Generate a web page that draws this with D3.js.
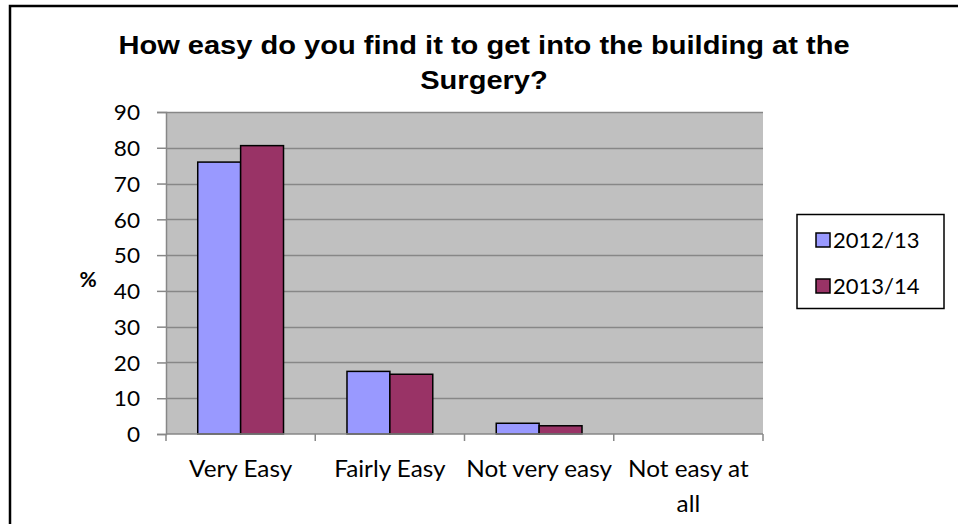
<!DOCTYPE html>
<html>
<head>
<meta charset="utf-8">
<script src="https://cdn.jsdelivr.net/npm/d3@7"></script>
<style>
  html, body { margin: 0; padding: 0; background: #fff; }
  svg { display: block; }
</style>
</head>
<body>
<svg id="chart" width="958" height="524"></svg>
<script>
// Survey responses: share of patients (%) per answer, per year
const categories = ["Very Easy", "Fairly Easy", "Not very easy", "Not easy at all"];
const seriesNames = ["2012/13", "2013/14"];
const values2012 = [76, 17.5, 3, 0];
const values2013 = [80.6, 16.7, 2.3, 0];
const yTicks = [0, 10, 20, 30, 40, 50, 60, 70, 80, 90];
const seriesColors = ["#9999FF", "#993366"];

const svg = d3.select("#chart");
const W = 958, H = 524;
const plot = { left: 166, right: 763, top: 112, bottom: 434 };
const labelFont = "Lato, sans-serif";

// Outer chart frame
svg.append("rect")
  .attr("x", 10).attr("y", 6)
  .attr("width", W + 20).attr("height", H + 20)
  .attr("fill", "#fff").attr("stroke", "#000").attr("stroke-width", 2.5);

// Widen a text element horizontally around its own anchor x
function widen(sel, cx, k) {
  sel.attr("transform", `translate(${cx},0) scale(${k},1) translate(${-cx},0)`);
}

// Title
const titleLines = ["How easy do you find it to get into the building at the", "Surgery?"];
titleLines.forEach((line, k) => {
  const t = svg.append("text")
    .attr("x", 484).attr("y", 54 + k * 35)
    .attr("text-anchor", "middle")
    .attr("font-family", "Liberation Sans, Arial, sans-serif")
    .attr("font-weight", "bold")
    .attr("font-size", 25.5)
    .attr("fill", "#000")
    .text(line);
  widen(t, 484, 1.14);
});

const x0 = d3.scaleBand().domain(categories).range([plot.left, plot.right]).padding(0);
const x1 = d3.scaleBand().domain(seriesNames).range([0, x0.bandwidth()])
  .paddingInner(0).paddingOuter(0.74);
const y = d3.scaleLinear().domain([0, 90]).range([plot.bottom, plot.top]);

// Plot background
svg.append("rect")
  .attr("x", plot.left).attr("y", plot.top)
  .attr("width", plot.right - plot.left).attr("height", plot.bottom - plot.top)
  .attr("fill", "#C0C0C0");

// Horizontal gridlines
svg.append("g").selectAll("line")
  .data(yTicks.filter(t => t > 0))
  .join("line")
  .attr("x1", plot.left).attr("x2", plot.right)
  .attr("y1", d => Math.round(y(d)) + 0.5).attr("y2", d => Math.round(y(d)) + 0.5)
  .attr("stroke", "#878787").attr("stroke-width", 1.5);

// Bars
const rows = categories.map((c, i) => ({ cat: c, vals: [values2012[i], values2013[i]] }));
const groups = svg.append("g").selectAll("g")
  .data(rows).join("g")
  .attr("transform", d => `translate(${x0(d.cat)},0)`);
groups.selectAll("rect")
  .data(d => d.vals.map((v, j) => ({ s: seriesNames[j], v, j })))
  .join("rect")
  .filter(d => d.v > 0)
  .attr("x", d => x1(d.s))
  .attr("y", d => y(d.v))
  .attr("width", x1.bandwidth())
  .attr("height", d => y(0) - y(d.v))
  .attr("fill", d => seriesColors[d.j])
  .attr("stroke", "#000").attr("stroke-width", 1.5);

// Y axis
const yAxis = d3.axisLeft(y).tickValues(yTicks).tickSize(9).tickPadding(17).tickFormat(d3.format("d"));
const gy = svg.append("g").attr("transform", `translate(${plot.left},0)`).call(yAxis);
gy.select(".domain").attr("stroke", "#878787").attr("stroke-width", 1.5);
gy.selectAll(".tick line").attr("stroke", "#878787").attr("stroke-width", 1.5);
gy.selectAll(".tick text")
  .attr("font-family", labelFont).attr("font-size", 21.5).attr("fill", "#000")
  .attr("dy", "0.36em")
  .each(function () {
    const t = d3.select(this);
    widen(t, +t.attr("x"), 1.05);
  });

// X axis: tick marks at category boundaries
const xBounds = categories.map(c => x0(c)).concat([plot.right]);
const gx = svg.append("g");
gx.append("line")
  .attr("x1", plot.left).attr("x2", plot.right)
  .attr("y1", plot.bottom).attr("y2", plot.bottom)
  .attr("stroke", "#878787").attr("stroke-width", 1.5);
gx.selectAll("line.tk").data(xBounds).join("line").attr("class", "tk")
  .attr("x1", d => d).attr("x2", d => d)
  .attr("y1", plot.bottom).attr("y2", plot.bottom + 7)
  .attr("stroke", "#878787").attr("stroke-width", 1.5);

// Category labels (wrapped to the band width)
const catLabels = [["Very Easy"], ["Fairly Easy"], ["Not very easy"], ["Not easy at", "all"]];
categories.forEach((c, i) => {
  const cx = x0(c) + x0.bandwidth() / 2;
  catLabels[i].forEach((line, k) => {
    const t = gx.append("text")
      .attr("x", cx).attr("y", 477 + k * 35)
      .attr("text-anchor", "middle")
      .attr("font-family", labelFont).attr("font-size", 22.5).attr("fill", "#000")
      .text(line);
    widen(t, cx, 1.08);
  });
});

// Y axis title
svg.append("text")
  .attr("x", 88).attr("y", 287)
  .attr("text-anchor", "middle")
  .attr("font-family", labelFont).attr("font-weight", "bold")
  .attr("font-size", 21).attr("fill", "#000")
  .text("%");

// Legend
const lg = svg.append("g");
lg.append("rect")
  .attr("x", 797).attr("y", 214.5).attr("width", 147).attr("height", 94)
  .attr("fill", "#fff").attr("stroke", "#000").attr("stroke-width", 1.5);
seriesNames.forEach((name, j) => {
  const cy = 240 + j * 46;
  lg.append("rect")
    .attr("x", 816).attr("y", cy - 7).attr("width", 14).attr("height", 14)
    .attr("fill", seriesColors[j]).attr("stroke", "#000").attr("stroke-width", 1.5);
  lg.append("text")
    .attr("x", 833).attr("y", cy + 8)
    .attr("font-family", labelFont).attr("font-size", 22).attr("fill", "#000")
    .text(name);
});
</script>
</body>
</html>
